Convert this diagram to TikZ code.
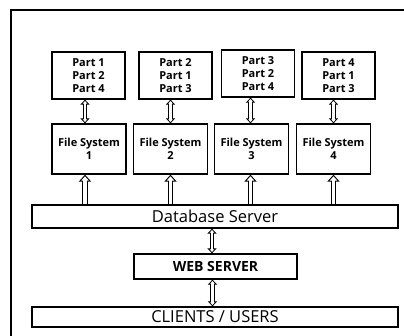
\documentclass[tikz,border=0pt]{standalone}
\usepackage{fontspec}
\setsansfont{Open Sans}
\usepackage{tikz}
\usetikzlibrary{positioning,arrows.meta}

\begin{document}
\begin{tikzpicture}[x=1pt,y=-1pt,
		partbox/.style={draw, line width=1.3pt, minimum width=73pt, minimum height=47pt, align=center, font=\sffamily\bfseries\fontsize{11}{13}\selectfont, inner sep=0pt},
		fsbox/.style={draw, line width=1.3pt, minimum width=74pt, minimum height=50pt, align=center, font=\sffamily\bfseries\fontsize{11}{13}\selectfont, inner sep=0pt},
		widebox/.style={draw, line width=1.3pt, minimum width=366pt, inner sep=0pt, font=\sffamily\fontsize{16.5}{16.5}\selectfont},
		twoway/.style={line width=4.4pt, {Triangle[length=5pt,width=9pt]}-{Triangle[length=5pt,width=9pt]},
			postaction={draw=white, line width=2.4pt, shorten <=1.5pt, shorten >=1.5pt, {Triangle[length=2.5pt,width=4.5pt]}-{Triangle[length=2.5pt,width=4.5pt]}}},
		oneway/.style={line width=5.4pt, -{Triangle[length=7pt,width=12pt]},
			postaction={draw=white, line width=3.2pt, shorten >=1.7pt, -{Triangle[length=4.2pt,width=7.2pt]}}},
		]
		\useasboundingbox (0,0) rectangle (404,336);
		
		%Frame
		\draw[line width=1.8pt] (11,336) -- (11,10) -- (404,10);
		
		%Nodes
		\node[partbox] (p1) at (88.5,75.5) {Part 1\\Part 2\\Part 4};
		\node[partbox] (p2) at (175.5,75.5) {Part 2\\Part 1\\Part 3};
		\node[partbox] (p3) at (258,73.5) {Part 3\\Part 2\\Part 4};
		\node[partbox] (p4) at (338.5,75.5) {Part 4\\Part 1\\Part 3};
		
		\node[fsbox] (f1) at (89,149) {File System\\1};
		\node[fsbox] (f2) at (170.5,149) {File System\\2};
		\node[fsbox] (f3) at (251.5,149) {File System\\3};
		\node[fsbox] (f4) at (333.5,149) {File System\\4};
		
		\node[widebox, minimum height=23pt] (db) at (215,216.5) {Database Server};
		\node[draw, line width=1.3pt, minimum width=163pt, minimum height=25pt, inner sep=0pt, font=\sffamily\bfseries\fontsize{14}{14}\selectfont] (web) at (215.5,266.5) {WEB SERVER};
		\node[widebox, minimum height=20pt] (cl) at (215,317) {CLIENTS / USERS};
		
		%Lines
		\draw[twoway] ([xshift=-4pt]f1.north) -- ([xshift=-4pt]f1.north |- p1.south);
		\draw[twoway] (f2.north) -- (f2.north |- p2.south);
		\draw[twoway] ([xshift=-1pt]f3.north) -- ([xshift=-1pt]f3.north |- p3.south);
		\draw[twoway] (f4.north) -- (f4.north |- p4.south);
		
		\draw[oneway] ([xshift=-4pt]f1.south |- db.north) -- ([xshift=-4pt]f1.south);
		\draw[oneway] (f2.south |- db.north) -- (f2.south);
		\draw[oneway] ([xshift=-1pt]f3.south |- db.north) -- ([xshift=-1pt]f3.south);
		\draw[oneway] (f4.south |- db.north) -- (f4.south);
		
		\draw[twoway] ([xshift=-3pt]db.south) -- ([xshift=-3pt]db.south |- web.north);
		\draw[twoway] ([xshift=-3pt]web.south) -- ([xshift=-3pt]web.south |- cl.north);
\end{tikzpicture}
\end{document}
